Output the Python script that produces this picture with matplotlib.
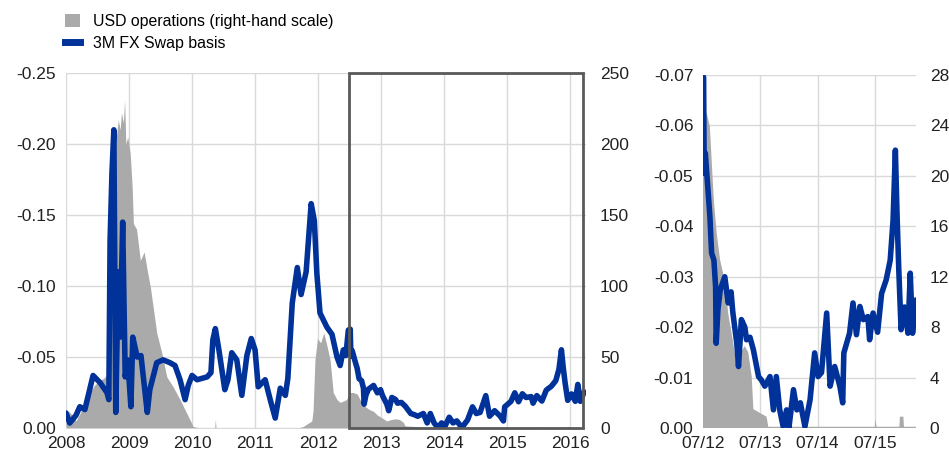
import numpy as np
import matplotlib
matplotlib.use('Agg')
import matplotlib.pyplot as plt
from matplotlib.patches import Rectangle, Patch
from matplotlib.lines import Line2D

plt.rcParams['font.family'] = ['Liberation Sans', 'DejaVu Sans']
plt.rcParams['font.size'] = 12

# 3M FX swap basis (decimal years, value)
basis_t = [2008.00, 2008.06, 2008.16, 2008.22, 2008.30, 2008.43, 2008.54, 2008.65, 2008.68,
           2008.70, 2008.73, 2008.76, 2008.79, 2008.83, 2008.86, 2008.90, 2008.94, 2008.98,
           2009.03, 2009.06, 2009.13, 2009.19, 2009.29, 2009.33, 2009.44, 2009.54, 2009.65,
           2009.73, 2009.81, 2009.89, 2009.94, 2010.00, 2010.08, 2010.24, 2010.30, 2010.33,
           2010.37, 2010.43, 2010.52, 2010.57, 2010.63, 2010.71, 2010.79, 2010.87, 2010.94,
           2011.00, 2011.05, 2011.16, 2011.24, 2011.32, 2011.40, 2011.48, 2011.52, 2011.59,
           2011.67, 2011.73, 2011.81, 2011.89, 2011.94, 2011.98, 2012.03, 2012.14, 2012.22,
           2012.30, 2012.35, 2012.40, 2012.44, 2012.48,
           2012.51, 2012.52, 2012.54, 2012.59, 2012.62, 2012.65, 2012.69, 2012.72, 2012.73,
           2012.76, 2012.80, 2012.88, 2012.94, 2012.99, 2013.02, 2013.09, 2013.12, 2013.17,
           2013.23, 2013.26, 2013.32, 2013.38, 2013.47, 2013.52, 2013.58, 2013.67, 2013.73,
           2013.78, 2013.84, 2013.90, 2013.96, 2014.00, 2014.08, 2014.14, 2014.20, 2014.28,
           2014.37, 2014.45, 2014.51, 2014.57, 2014.66, 2014.72, 2014.80, 2014.89, 2014.94,
           2014.96, 2015.06, 2015.12, 2015.18, 2015.24, 2015.30, 2015.38, 2015.41, 2015.47,
           2015.55, 2015.62, 2015.70, 2015.77, 2015.82, 2015.86, 2015.89, 2015.92, 2015.96,
           2016.02, 2016.08, 2016.12, 2016.16, 2016.22]
basis_v = [-0.0106, -0.0035, -0.0090, -0.0150, -0.0130, -0.0370, -0.0320, -0.0250, -0.0200,
           -0.1320, -0.1800, -0.2100, -0.0110, -0.1100, -0.0640, -0.1450, -0.0360, -0.0480,
           -0.0150, -0.0640, -0.0500, -0.0510, -0.0110, -0.0270, -0.0460, -0.0480, -0.0460,
           -0.0440, -0.0340, -0.0200, -0.0300, -0.0370, -0.0340, -0.0360, -0.0390, -0.0620,
           -0.0700, -0.0540, -0.0270, -0.0340, -0.0530, -0.0480, -0.0230, -0.0510, -0.0630,
           -0.0550, -0.0290, -0.0340, -0.0200, -0.0070, -0.0280, -0.0230, -0.0350, -0.0880,
           -0.1130, -0.0940, -0.1100, -0.1580, -0.1460, -0.1090, -0.0810, -0.0710, -0.0660,
           -0.0500, -0.0440, -0.0550, -0.0510, -0.0690,
           -0.0696, -0.0505, -0.0545, -0.0465, -0.0420, -0.0347, -0.0333, -0.0280, -0.0168,
           -0.0234, -0.0274, -0.0300, -0.0248, -0.0270, -0.0230, -0.0168, -0.0122, -0.0215,
           -0.0200, -0.0175, -0.0180, -0.0155, -0.0102, -0.0095, -0.0083, -0.0102, -0.0036,
           -0.0102, -0.0036, -0.0003, -0.0036, 0.0000, -0.0076, -0.0036, -0.0050, -0.0003,
           -0.0056, -0.0149, -0.0102, -0.0110, -0.0228, -0.0083, -0.0122, -0.0083, -0.0050,
           -0.0149, -0.0188, -0.0248, -0.0185, -0.0241, -0.0215, -0.0221, -0.0175, -0.0228,
           -0.0190, -0.0267, -0.0294, -0.0333, -0.0412, -0.0551, -0.0420, -0.0313, -0.0195,
           -0.0240, -0.0188, -0.0307, -0.0188, -0.0254]

# USD operations, EUR bn (right-hand scale)
usd_t = [2008.00, 2008.04, 2008.08, 2008.12, 2008.16, 2008.22, 2008.30, 2008.38, 2008.45,
         2008.52, 2008.60, 2008.66, 2008.69, 2008.71, 2008.74, 2008.76, 2008.80, 2008.83,
         2008.86, 2008.88, 2008.91, 2008.93, 2008.95, 2008.98, 2009.02, 2009.05, 2009.07,
         2009.12, 2009.18, 2009.24, 2009.29, 2009.34, 2009.39, 2009.44, 2009.52, 2009.60,
         2009.70, 2009.81, 2009.92, 2010.02, 2010.10, 2010.36, 2010.37, 2010.38, 2011.70,
         2011.76, 2011.90, 2011.92, 2011.95, 2011.99, 2012.04, 2012.09, 2012.14, 2012.19,
         2012.24, 2012.30, 2012.35, 2012.45, 2012.50, 2012.56, 2012.59, 2012.62, 2012.65,
         2012.69, 2012.74, 2012.80, 2012.88, 2012.94, 2013.03, 2013.09, 2013.15, 2013.23,
         2013.29, 2013.35, 2013.38, 2013.49, 2013.61, 2013.64, 2015.50, 2015.51, 2015.53,
         2015.93, 2015.94, 2016.00, 2016.01, 2016.25]
usd_v = [12, 12, 10, 8, 5, 10, 18, 25, 30,
         33, 35, 38, 60, 95, 160, 193, 205, 217,
         210, 222, 215, 231, 200, 205, 193, 170, 144,
         140, 118, 124, 111, 99, 83, 67, 53, 36,
         29, 20, 10, 1, 0.3, 0.3, 6, 0.3, 0.3,
         1, 5, 12, 48, 63, 60, 67, 58, 48,
         25, 20, 18, 20, 25, 25, 24.5, 23.9, 21.3,
         18, 15.4, 13.3, 11.7, 9.1, 6.7, 4.9, 5.9, 6.5,
         6, 4.1, 1.5, 1.2, 0.9, 0.1, 0.1, 0.7, 0.1,
         0.1, 0.9, 0.9, 0.1, 0.1]

blue = '#003299'
grey = '#aaaaaa'
gridc = '#d9d9d9'

fig = plt.figure(figsize=(9.49, 4.55), dpi=100)


def make_panel(rect, xlim, xticks, xlabels, ylim, yticks, ylabels, y2lim, y2ticks):
    ax2 = fig.add_axes(rect)
    ax = ax2.twinx()
    ax.set_zorder(ax2.get_zorder() + 1)
    ax.patch.set_visible(False)
    # grey area on the right-hand scale
    ax2.fill_between(usd_t, usd_v, 0, color=grey, linewidth=0, zorder=2)
    ax2.set_ylim(*y2lim)
    ax2.set_yticks(y2ticks)
    ax2.yaxis.tick_right()
    ax2.set_xlim(*xlim)
    ax2.set_xticks(xticks)
    ax2.set_xticklabels(xlabels)
    ax2.grid(True, color=gridc, linewidth=1, zorder=0)
    ax2.set_axisbelow(True)
    # basis line on the left-hand scale
    ax.plot(basis_t, basis_v, color=blue, linewidth=4, solid_capstyle='round',
            solid_joinstyle='round')
    ax.set_ylim(*ylim)
    ax.set_yticks(yticks)
    ax.set_yticklabels(ylabels)
    ax.yaxis.tick_left()
    for a in (ax, ax2):
        for s in a.spines.values():
            s.set_visible(False)
        a.tick_params(length=0, labelsize=12.5, colors='#222222')
    ax.tick_params(axis='y', pad=7)
    ax2.tick_params(axis='y', pad=10)
    ax2.tick_params(axis='x', pad=6)
    return ax, ax2


years = list(range(2008, 2017))
ax, ax2 = make_panel([0.0695, 0.0593, 0.548, 0.7803], (2008, 2016.25), years,
                     [str(y) for y in years], (0, -0.25), np.arange(0, -0.26, -0.05),
                     [f'{v:.2f}' for v in np.arange(0, -0.26, -0.05)],
                     (0, 250), range(0, 251, 50))
ax.add_patch(Rectangle((2012.49, 0), 2016.21 - 2012.49, -0.25, fill=False,
                       edgecolor='#595959', linewidth=2, zorder=5, clip_on=False))

zt = [2012.5, 2013.5, 2014.5, 2015.5]
bx, bx2 = make_panel([0.7408, 0.0593, 0.2244, 0.7758], (2012.5, 2016.22), zt,
                     ['07/12', '07/13', '07/14', '07/15'], (0, -0.07),
                     np.arange(0, -0.071, -0.01),
                     [f'{v:.2f}' for v in np.arange(0, -0.071, -0.01)],
                     (0, 28), range(0, 29, 4))

handles = [Patch(facecolor=grey, edgecolor='none'),
           Line2D([0], [0], color=blue, linewidth=5)]
fig.legend(handles, ['USD operations (right-hand scale)', '3M FX Swap basis'],
           loc='upper left', bbox_to_anchor=(0.0585, 0.99), frameon=False,
           fontsize=11.4, handlelength=0.95, handleheight=0.9, handletextpad=0.82,
           labelspacing=0.42, borderaxespad=0.2)

plt.savefig('out.png', dpi=100)
